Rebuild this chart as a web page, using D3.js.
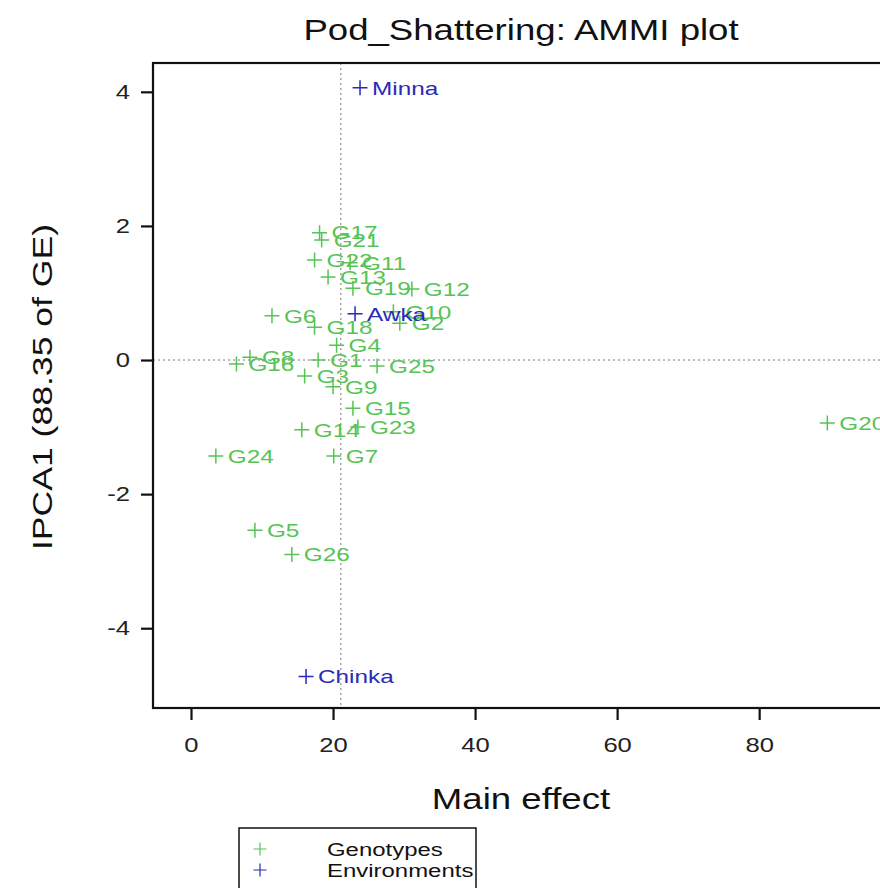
<!DOCTYPE html>
<html>
<head>
<meta charset="utf-8">
<script src="https://cdn.jsdelivr.net/npm/d3@7"></script>
<style>
  body { margin: 0; background: #fff; }
  svg { display: block; font-family: "Liberation Sans", Arial, sans-serif; }
</style>
</head>
<body>
<svg width="880" height="888"></svg>
<script>
// genotype scores (main effect, IPCA1)
var genoNames = ["G1","G2","G3","G4","G5","G6","G7","G8","G9","G10","G11","G12","G13",
                 "G14","G15","G16","G17","G18","G19","G20","G21","G22","G23","G24","G25","G26"]
var genoMain  = [17.9, 29.4, 16.0, 20.5, 9.0, 11.4, 20.1, 8.3, 20.0, 28.5, 22.4, 31.1, 19.3,
                 15.6, 22.8, 6.4, 18.1, 17.4, 22.8, 89.6, 18.4, 17.4, 23.5, 3.5, 26.2, 14.2]
var genoPC1   = [0.00, 0.55, -0.24, 0.22, -2.54, 0.66, -1.43, 0.04, -0.40, 0.72, 1.45, 1.06, 1.24,
                 -1.04, -0.72, -0.06, 1.90, 0.49, 1.07, -0.94, 1.79, 1.49, -1.00, -1.43, -0.09, -2.90]

// environment scores
var envNames = ["Minna", "Awka", "Chinka"]
var envMain  = [23.8, 23.1, 16.2]
var envPC1   = [4.06, 0.69, -4.72]

var grandMean = 21.1
var xTicks = [0, 20, 40, 60, 80]
var yTicks = [-4, -2, 0, 2, 4]

var GREEN = "#55c455"
var BLUE = "#2a2ab8"

main()

function main() {
  var LEFT = 153, TOP = 63, RIGHT = 887, BOTTOM = 708
  var SX = 1.22   // the original lettering is wider than Liberation Sans
  var svg = d3.select("svg")

  var x = d3.scaleLinear().domain([-5.35, 98.0]).range([LEFT, RIGHT])
  var y = d3.scaleLinear().domain([-5.19, 4.43]).range([BOTTOM, TOP])

  svg.append("text")
      .attr("transform", "translate(521,40) scale(" + SX + ",1)")
      .attr("text-anchor", "middle")
      .attr("font-size", 30)
      .attr("fill", "#111")
      .text("Pod_Shattering: AMMI plot")

  // reference lines
  svg.append("line")
      .attr("x1", x(grandMean)).attr("x2", x(grandMean))
      .attr("y1", TOP).attr("y2", BOTTOM)
      .attr("stroke", "#777").attr("stroke-dasharray", "2,3")
  svg.append("line")
      .attr("x1", LEFT).attr("x2", RIGHT)
      .attr("y1", y(0)).attr("y2", y(0))
      .attr("stroke", "#777").attr("stroke-dasharray", "2,3")

  // box
  svg.append("rect")
      .attr("x", LEFT).attr("y", TOP)
      .attr("width", RIGHT - LEFT).attr("height", BOTTOM - TOP)
      .attr("fill", "none").attr("stroke", "#111").attr("stroke-width", 2.2)

  var xAxis = svg.append("g")
      .attr("transform", "translate(0," + BOTTOM + ")")
      .call(d3.axisBottom(x).tickValues(xTicks).tickSize(12).tickPadding(17))
  var yAxis = svg.append("g")
      .attr("transform", "translate(" + LEFT + ",0)")
      .call(d3.axisLeft(y).tickValues(yTicks).tickSize(12).tickPadding(11 / SX)
            .tickFormat(function(d) { return d < 0 ? "-" + Math.abs(d) : d }))
  ;[xAxis, yAxis].forEach(function(a) {
    a.select(".domain").remove()
    a.selectAll(".tick line").attr("stroke", "#111").attr("stroke-width", 2.2)
    a.selectAll(".tick text").attr("font-size", 21).attr("fill", "#222")
        .attr("font-family", "Liberation Sans, Arial, sans-serif")
        .attr("transform", "scale(" + SX + ",1)")
  })
  yAxis.selectAll(".tick text").attr("x", -(12 + 11) / SX)

  svg.append("text")
      .attr("transform", "translate(521,809) scale(" + SX + ",1)")
      .attr("text-anchor", "middle")
      .attr("font-size", 30).attr("fill", "#111")
      .text("Main effect")

  svg.append("text")
      .attr("transform", "translate(52,387) rotate(-90) scale(1.27,1)")
      .attr("text-anchor", "middle")
      .attr("font-size", 28).attr("fill", "#111")
      .text("IPCA1 (88.35 of GE)")

  var clip = svg.append("clipPath").attr("id", "plot-clip")
  clip.append("rect").attr("x", LEFT).attr("y", TOP)
      .attr("width", RIGHT - LEFT).attr("height", BOTTOM - TOP)
  var plot = svg.append("g").attr("clip-path", "url(#plot-clip)")

  drawPoints(plot, genoNames, genoMain, genoPC1, GREEN)
  drawPoints(plot, envNames, envMain, envPC1, BLUE)

  function drawPoints(g, names, xs, ys, color) {
    var pts = g.append("g").selectAll("g")
        .data(names)
        .enter().append("g")
        .attr("transform", function(d, i) {
          return "translate(" + x(xs[i]) + "," + y(ys[i]) + ")"
        })
    pts.append("path")
        .attr("d", "M-7.5,0H7.5M0,-7.5V7.5")
        .attr("stroke", color).attr("stroke-width", 1.5)
    pts.append("text")
        .attr("transform", "scale(1.28,1)")
        .attr("x", 12 / 1.28)
        .attr("dy", "0.36em")
        .attr("font-size", 19)
        .attr("fill", color)
        .text(function(d) { return d })
  }

  // legend
  var legend = svg.append("g").attr("transform", "translate(239,828)")
  legend.append("rect")
      .attr("width", 237).attr("height", 80)
      .attr("fill", "#fff").attr("stroke", "#111").attr("stroke-width", 1.5)
  var items = [["Genotypes", GREEN], ["Environments", BLUE]]
  items.forEach(function(it, i) {
    var row = legend.append("g").attr("transform", "translate(21," + (21 + i * 21) + ")")
    row.append("path")
        .attr("d", "M-6.5,0H6.5M0,-6.5V6.5")
        .attr("stroke", it[1]).attr("stroke-width", 1.2)
    row.append("text")
        .attr("transform", "translate(67,0) scale(1.26,1)")
        .attr("dy", "0.36em")
        .attr("font-size", 19).attr("fill", "#111")
        .text(it[0])
  })
}
</script>
</body>
</html>
